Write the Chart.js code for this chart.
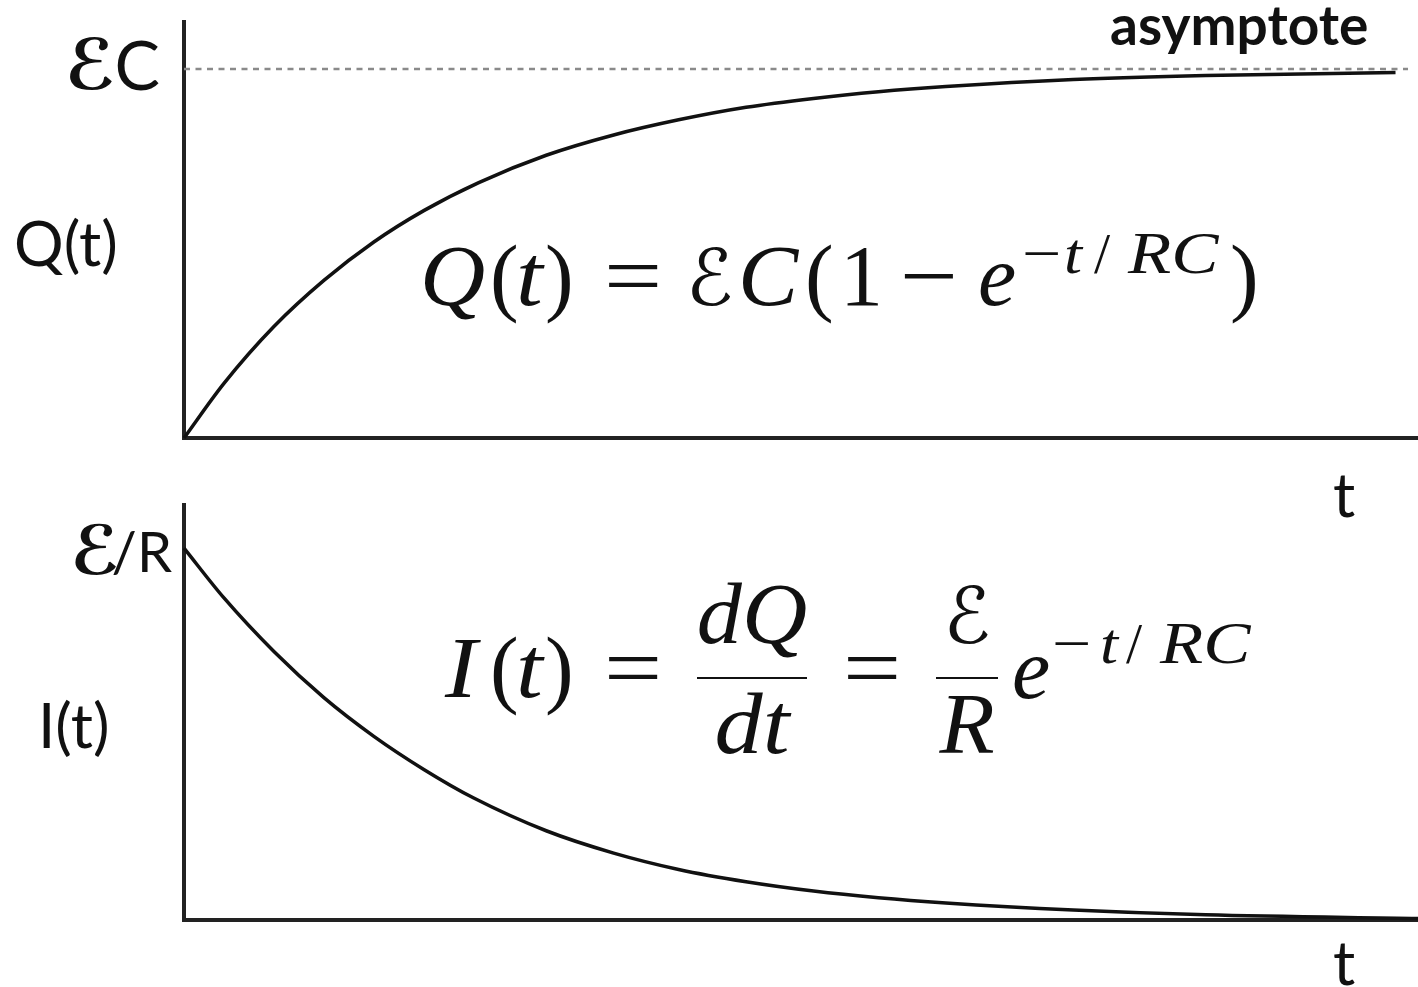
<!DOCTYPE html>
<html>
<head>
<meta charset="utf-8">
<script src="https://cdn.jsdelivr.net/npm/chart.js@4"></script>
<style>
  html, body { margin: 0; padding: 0; background: #fff; }
  #wrap { position: relative; width: 1418px; height: 987px; overflow: hidden; }
  canvas { position: absolute; left: 0; }
  #charge { top: 0; }
  #current { top: 480px; }
</style>
</head>
<body>
<div id="wrap">
  <canvas id="charge" width="1418" height="530"></canvas>
  <canvas id="current" width="1418" height="507"></canvas>
</div>
<script>
// time axis is in units of RC; charge in units of EC, current in units of E/R
let chargeTimes = [0, 0.16, 0.36, 0.56, 0.76, 0.96, 1.18, 1.45, 1.72, 1.98, 2.25, 2.52, 2.78, 3.05, 3.56, 4.09, 4.85];
let chargeValues = [0, 0.148, 0.302, 0.427, 0.531, 0.616, 0.692, 0.766, 0.821, 0.862, 0.896, 0.920, 0.938, 0.952, 0.971, 0.982, 0.990];

let currentTimes = [0, 0.16, 0.36, 0.56, 0.76, 0.96, 1.16, 1.45, 1.72, 1.98, 2.25, 2.52, 2.78, 3.05, 3.56, 4.09, 4.94];
let currentValues = [1, 0.866, 0.722, 0.598, 0.494, 0.405, 0.328, 0.240, 0.180, 0.136, 0.103, 0.078, 0.060, 0.046, 0.027, 0.014, 0.004];

let asymptoteTimes = [0, 4.9];
let asymptoteValues = [1, 1];

const tMax = 4.94;

function points(xs, ys) {
  return xs.map((x, i) => ({ x: x, y: ys[i] }));
}

const sans = '"Lato", "DejaVu Sans", sans-serif';
const serif = '"Liberation Serif", "DejaVu Serif", serif';
const script = '"DejaVu Sans", sans-serif';

// draws labels and formulas on top of a chart
const notes = {
  id: 'notes',
  afterDraw(chart, args, opts) {
    const ctx = chart.ctx;
    ctx.save();
    ctx.fillStyle = opts.color || '#111';
    ctx.strokeStyle = opts.color || '#111';
    (opts.items || []).forEach(it => {
      if (it.bar) {
        ctx.lineWidth = 2;
        ctx.beginPath();
        ctx.moveTo(it.bar[0], it.y);
        ctx.lineTo(it.bar[1], it.y);
        ctx.stroke();
        return;
      }
      let y = it.y;
      if (it.value !== undefined) y = chart.scales.y.getPixelForValue(it.value) + (it.dy || 0);
      ctx.save();
      ctx.translate(it.x, y);
      ctx.scale(it.sx || 1, 1);
      ctx.font = it.font;
      ctx.textAlign = it.align || 'left';
      ctx.textBaseline = it.baseline || 'alphabetic';
      ctx.fillText(it.text, 0, 0);
      ctx.restore();
    });
    ctx.restore();
  }
};

function axes(yMax) {
  const common = {
    grid: { display: false, drawTicks: false },
    ticks: { display: false },
    border: { display: true, color: '#222', width: 4 }
  };
  return {
    x: Object.assign({ type: 'linear', min: 0, max: tMax }, common),
    y: Object.assign({ type: 'linear', min: 0, max: yMax }, common)
  };
}

// piece helpers for the formulas
const it = (text, x, y, size, sx) => ({ text, x, y, sx: sx || 1.12, font: 'italic ' + size + 'px ' + serif });
const up = (text, x, y, size, sx) => ({ text, x, y, sx: sx || 1, font: size + 'px ' + serif });
const sc = (text, x, y, size) => ({ text, x, y, font: size + 'px ' + script });
const mid = (o) => Object.assign(o, { align: 'center' });

new Chart(document.getElementById('charge'), {
  type: 'line',
  data: {
    datasets: [
      {
        label: 'Q(t)',
        data: points(chargeTimes, chargeValues),
        borderColor: '#111',
        borderWidth: 3.5,
        cubicInterpolationMode: 'monotone',
        pointRadius: 0,
        clip: false
      },
      {
        label: 'asymptote',
        data: points(asymptoteTimes, asymptoteValues),
        borderColor: '#8a8a8a',
        borderWidth: 2.5,
        borderDash: [6, 5.5],
        pointRadius: 0,
        clip: false
      }
    ]
  },
  options: {
    responsive: false,
    animation: false,
    layout: { padding: { left: 184, top: 22, right: 0, bottom: 92 } },
    scales: axes(1.127),
    plugins: {
      legend: { display: false },
      tooltip: { enabled: false },
      notes: {
        items: [
          { text: 'ℰ', x: 116, value: 1, dy: 2, baseline: 'middle', align: 'right', font: 'bold 70px ' + script },
          { text: 'C', x: 160, value: 1, dy: -1, baseline: 'middle', align: 'right', font: '68px ' + sans },
          { text: 'Q(t)', x: 14, y: 266, font: '62px ' + sans },
          { text: 'asymptote', x: 1110, y: 45, font: 'bold 55px ' + sans },
          { text: 't', x: 1333, y: 517, font: '62px ' + sans },
          it('Q', 420, 305, 86, 1.05),
          up('(', 490, 305, 86),
          it('t', 516, 305, 86),
          up(')', 545, 305, 86),
          up('=', 604, 305, 86, 1.2),
          sc('ℰ', 686, 305, 78),
          it('C', 738, 305, 86, 1.05),
          up('(', 805, 305, 86),
          up('1', 840, 305, 86),
          up('−', 900, 305, 86, 1.2),
          it('e', 978, 305, 86, 1.0),
          up('−', 1022, 273, 58, 1.2),
          it('t', 1064, 273, 58),
          up('/', 1094, 273, 58),
          it('RC', 1128, 273, 60, 1.18),
          up(')', 1230, 305, 86)
        ]
      }
    }
  },
  plugins: [notes]
});

new Chart(document.getElementById('current'), {
  type: 'line',
  data: {
    datasets: [
      {
        label: 'I(t)',
        data: points(currentTimes, currentValues),
        borderColor: '#111',
        borderWidth: 3.5,
        cubicInterpolationMode: 'monotone',
        pointRadius: 0,
        clip: false
      }
    ]
  },
  options: {
    responsive: false,
    animation: false,
    layout: { padding: { left: 184, top: 25, right: 0, bottom: 67 } },
    scales: axes(1.116),
    plugins: {
      legend: { display: false },
      tooltip: { enabled: false },
      notes: {
        items: [
          { text: 'ℰ', x: 120, value: 1, dy: 8, baseline: 'middle', align: 'right', font: 'bold 68px ' + script },
          { text: '/R', x: 172, value: 1, dy: 6, baseline: 'middle', align: 'right', font: '56px ' + sans },
          { text: 'I(t)', x: 38, y: 268, font: '62px ' + sans },
          { text: 't', x: 1333, y: 505, font: '62px ' + sans },
          it('I', 445, 217, 86),
          up('(', 490, 217, 86),
          it('t', 516, 217, 86),
          up(')', 545, 217, 86),
          up('=', 604, 217, 86, 1.2),
          mid(it('dQ', 752, 163, 86, 1.05)),
          { bar: [697, 807], y: 198 },
          mid(it('dt', 752, 273, 86)),
          up('=', 843, 217, 86, 1.2),
          mid(sc('ℰ', 967, 163, 78)),
          { bar: [936, 998], y: 198 },
          mid(it('R', 967, 273, 86, 1.05)),
          it('e', 1012, 218, 86, 1.0),
          up('−', 1052, 183, 58, 1.2),
          it('t', 1100, 183, 58),
          up('/', 1126, 183, 58),
          it('RC', 1160, 183, 60, 1.18)
        ]
      }
    }
  },
  plugins: [notes]
});
</script>
</body>
</html>
